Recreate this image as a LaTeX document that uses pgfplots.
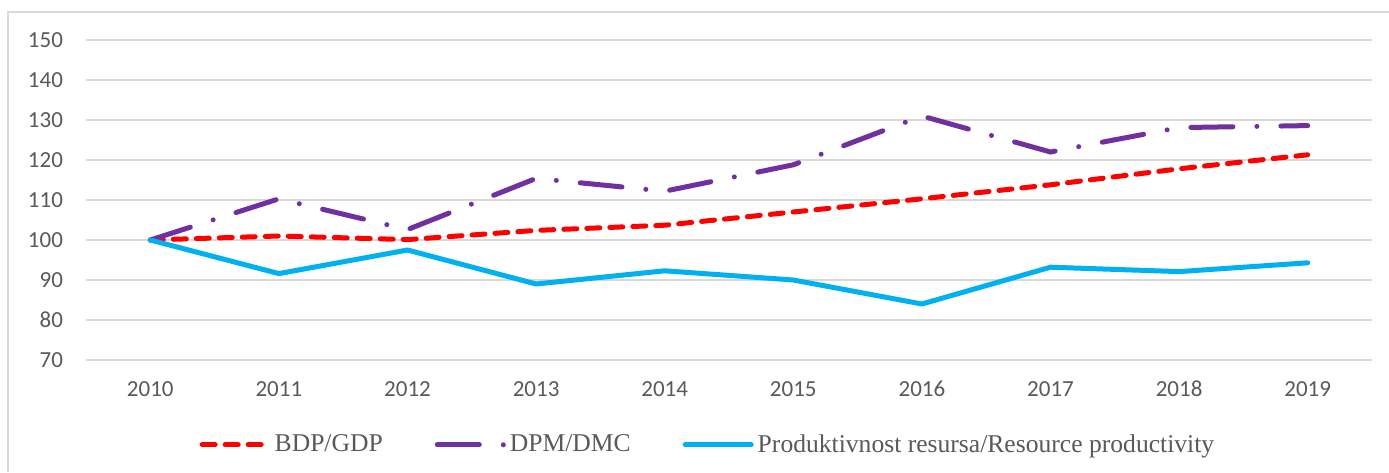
\documentclass[border=0pt]{standalone}
\usepackage{pgfplots}
\pgfplotsset{compat=1.18}
\usepackage{fontspec}
\setmainfont{Carlito}
\newfontfamily\legfont{Liberation Serif}
\definecolor{cred}{HTML}{FF0000}
\definecolor{cpurple}{HTML}{7030A0}
\definecolor{cblue}{HTML}{00B0F0}
\definecolor{cgrid}{HTML}{D9D9D9}
\definecolor{ctext}{HTML}{595959}
\begin{document}
\begin{tikzpicture}
\begin{axis}[
  scale only axis,
  width=643pt, height=160pt,
  xmin=-0.5, xmax=9.5,
  ymin=70, ymax=150,
  ytick={70,80,...,150},
  xtick={0,...,9},
  xticklabels={2010,2011,2012,2013,2014,2015,2016,2017,2018,2019},
  axis line style={draw=none},
  major tick length=0pt,
  ymajorgrids,
  grid style={cgrid, line width=0.75pt},
  tick label style={font=\fontsize{11.5}{13}\selectfont, text=ctext},
  /pgf/number format/assume math mode=true,
  yticklabel style={xshift=-8pt},
  xticklabel style={yshift=-6.5pt, text height=8pt, text depth=0pt},
  legend image code/.code={\draw[#1] (0pt,0pt) -- (33pt,0pt);},
  legend style={draw=none, fill=none, at={(0.4844,-0.265)}, anchor=center,
    legend columns=3, font=\legfont\fontsize{12.8}{14}\selectfont, text=ctext,
    /tikz/every even column/.append style={column sep=24pt},
    cells={anchor=west}},
  clip=false,
]
\addplot[cred, line width=2.5pt, line cap=round, dash pattern=on 6.5pt off 5pt]
  coordinates {(0,100) (1,101) (2,100.1) (3,102.4) (4,103.7) (5,107) (6,110.3) (7,113.8) (8,117.8) (9,121.3)};
\addlegendentry{BDP/GDP}
\addplot[cpurple, line width=2.5pt, line cap=round, dash pattern=on 21pt off 12pt on 0pt off 12pt]
  coordinates {(0,100) (1,110.3) (2,102.6) (3,115.4) (4,112.2) (5,118.8) (6,131) (7,122) (8,128.1) (9,128.6)};
\addlegendentry{DPM/DMC}
\addplot[cblue, line width=2.5pt, line cap=round, line join=round]
  coordinates {(0,100) (1,91.6) (2,97.5) (3,89) (4,92.3) (5,90) (6,84) (7,93.2) (8,92.1) (9,94.3)};
\addlegendentry{Produktivnost resursa/Resource productivity}
\end{axis}
\draw[cgrid, line width=0.75pt] (-39pt,-56pt) -- (-39pt,174pt) -- (651.5pt,174pt);
\pgfresetboundingbox
\path[use as bounding box] (-43pt,-56pt) rectangle (651.5pt,180pt);
\end{tikzpicture}
\end{document}
